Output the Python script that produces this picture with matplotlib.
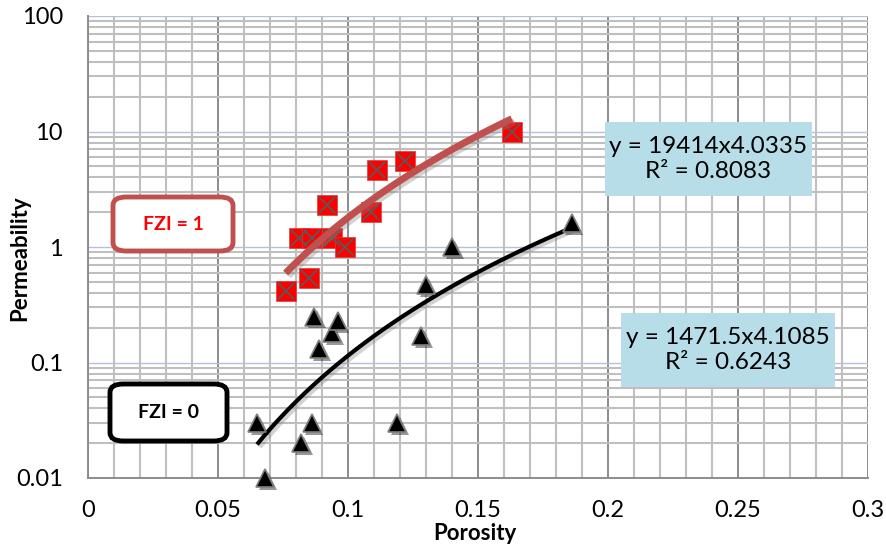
import numpy as np
import matplotlib
matplotlib.use("Agg")
import matplotlib.pyplot as plt
import matplotlib.patheffects as pe
from matplotlib.patches import FancyBboxPatch
from matplotlib.ticker import FixedLocator, NullFormatter

plt.rcParams['font.family'] = ['Lato', 'DejaVu Sans']

# FZI = 1 samples (red squares)
por_fzi1 = [0.076, 0.085, 0.081, 0.086, 0.094, 0.099, 0.092, 0.109, 0.111, 0.122, 0.163]
perm_fzi1 = [0.42, 0.54, 1.2, 1.2, 1.2, 1.0, 2.3, 2.0, 4.6, 5.5, 10.0]

# FZI = 0 samples (black triangles)
por_fzi0 = [0.065, 0.068, 0.082, 0.086, 0.087, 0.089, 0.094, 0.096, 0.119, 0.128, 0.130, 0.140, 0.186]
perm_fzi0 = [0.03, 0.01, 0.02, 0.03, 0.25, 0.13, 0.18, 0.23, 0.03, 0.17, 0.47, 1.0, 1.6]

# power trendlines as given on the chart
a1, b1 = 19414, 4.0335
a0, b0 = 1471.5, 4.1085
eq1 = "y = 19414x4.0335\nR² = 0.8083"
eq0 = "y = 1471.5x4.1085\nR² = 0.6243"

xticks = [0, 0.05, 0.1, 0.15, 0.2, 0.25, 0.3]
xtick_labels = ["0", "0.05", "0.1", "0.15", "0.2", "0.25", "0.3"]
yticks = [0.01, 0.1, 1, 10, 100]
ytick_labels = ["0.01", "0.1", "1", "10", "100"]

fig = plt.figure(figsize=(8.87, 5.5), dpi=100)
ax = fig.add_axes([88/887, 72/550, 780/887, 462/550])
ax.set_yscale("log")
ax.set_xlim(0, 0.3)
ax.set_ylim(0.01, 100)

# grid
minor_y = [m * 10.0**e for e in range(-2, 2) for m in range(2, 10)]
ax.yaxis.set_minor_locator(FixedLocator(minor_y))
ax.yaxis.set_minor_formatter(NullFormatter())
ax.xaxis.set_minor_locator(FixedLocator(np.arange(0, 0.3001, 0.01)))
ax.grid(which="minor", axis="both", color="#BFBFBF", lw=1.5, zorder=0)
ax.grid(which="major", axis="x", color="#8C8C8C", lw=1.4, zorder=0)
ax.grid(which="major", axis="y", color="#B4C0DC", lw=1.0, zorder=0)
ax.set_axisbelow(True)
ax.tick_params(which="both", length=0)
for s in ["top", "right"]:
    ax.spines[s].set_visible(False)
ax.spines["left"].set_color("#8C8C8C")
ax.spines["bottom"].set_color("#8C8C8C")
ax.spines["left"].set_linewidth(1.4)
ax.spines["bottom"].set_linewidth(1.4)

ax.set_xticks(xticks)
ax.set_xticklabels(xtick_labels, fontsize=17)
ax.set_yticks(yticks)
ax.set_yticklabels(ytick_labels, fontsize=17)
ax.tick_params(axis="x", pad=16)
ax.tick_params(axis="y", pad=18)

fig.text(475/887, 1 - 533/550, "Porosity", fontsize=16, fontweight="bold",
         ha="center", va="center")
fig.text(20/887, 1 - 258/550, "Permeability", fontsize=16, fontweight="bold",
         ha="center", va="center", rotation=90)

shadow = [pe.SimpleLineShadow(offset=(2, -2), shadow_color="gray", alpha=0.35), pe.Normal()]

# trendlines
xr1 = np.linspace(min(por_fzi1), max(por_fzi1), 100)
ax.plot(xr1, a1 * xr1**b1, color="#C0504D", lw=5, zorder=4, path_effects=shadow,
        solid_capstyle="butt")
xr0 = np.linspace(min(por_fzi0), max(por_fzi0), 100)
ax.plot(xr0, a0 * xr0**b0, color="black", lw=3, zorder=4, path_effects=shadow,
        solid_capstyle="butt")

# markers
ax.plot(por_fzi1, perm_fzi1, "s", ms=14, mfc="#FF0000", mec="#D04040", mew=0.5, zorder=3,
        clip_on=False)
ax.plot(por_fzi1, perm_fzi1, "x", ms=12, mec="#595959", mew=1.3, zorder=3, clip_on=False)
ax.plot(por_fzi0, perm_fzi0, "^", ms=13, mfc="black", mec="#7F7F7F", mew=1.2, zorder=5,
        clip_on=False,
        path_effects=[pe.SimplePatchShadow(offset=(2, -2), alpha=0.4), pe.Normal()])

# equation boxes
for (x0, y0, x1, y1, txt) in [(605, 122, 812, 196, eq1), (621, 313, 835, 387, eq0)]:
    fig.patches.append(plt.Rectangle((x0/887, 1 - y1/550), (x1 - x0)/887, (y1 - y0)/550,
                                     transform=fig.transFigure, fc="#B7DEE8", ec="none", zorder=6))
    fig.text((x0 + x1)/2/887, 1 - (y0 + y1)/2/550, txt, fontsize=17.5,
             ha="center", va="center", linespacing=1.2, zorder=7)

# FZI labels
for (x0, y0, x1, y1, txt, col, ec) in [(113, 197, 233, 251, "FZI = 1", "#FF0000", "#C0504D"),
                                      (110, 384, 227, 441, "FZI = 0", "black", "black")]:
    box = FancyBboxPatch((x0/887, 1 - y1/550), (x1 - x0)/887, (y1 - y0)/550,
                         boxstyle="round,pad=0,rounding_size=0.015", transform=fig.transFigure,
                         fc="white", ec=ec, lw=3.5, zorder=6)
    fig.patches.append(box)
    fig.text((x0 + x1)/2/887, 1 - (y0 + y1)/2/550, txt, ha="center", va="center",
             fontsize=14, fontweight="bold", color=col, zorder=7)

plt.savefig("out.png", dpi=100)
